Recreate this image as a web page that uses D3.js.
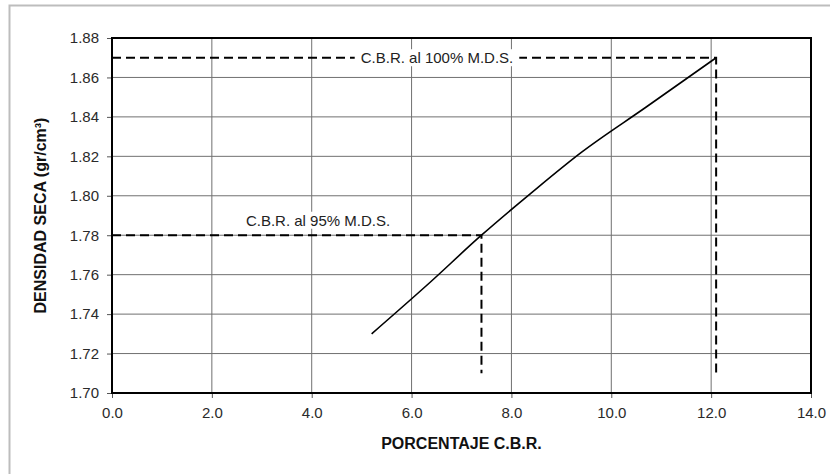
<!DOCTYPE html>
<html>
<head>
<meta charset="utf-8">
<script src="https://cdn.jsdelivr.net/npm/d3@7"></script>
<style>
  body { margin: 0; background: #fff; }
  text { font-family: "Liberation Sans", Arial, sans-serif; }
</style>
</head>
<body>
<div id="zone_graphique"></div>
<script>
// données
var cbr = [5.2, 6.3, 7.4, 8.4, 9.4, 10.7, 12.1];
var densite = [1.730, 1.7545, 1.780, 1.8015, 1.822, 1.845, 1.870];
var xTicks = [0, 2, 4, 6, 8, 10, 12, 14];
var yTicks = [1.70, 1.72, 1.74, 1.76, 1.78, 1.80, 1.82, 1.84, 1.86, 1.88];
var repere95 = {x: 7.4, y: 1.78, label: "C.B.R. al 95% M.D.S."};
var repere100 = {x: 12.1, y: 1.87, label: "C.B.R. al 100% M.D.S."};
var basRepere = 1.71;

var largeur = 830;
var hauteur = 474;
var marge = {haut: 38, droite: 19, bas: 81, gauche: 112},
    width = largeur - marge.gauche - marge.droite,
    height = hauteur - marge.haut - marge.bas;

var root = d3.select("#zone_graphique")
    .append("svg")
        .attr("width", largeur)
        .attr("height", hauteur);

// cadre extérieur gris
root.append("path")
    .attr("d", "M9.5,474 V5.5 H830")
    .attr("fill", "none")
    .attr("stroke", "#bdbdbd")
    .attr("stroke-width", 2);

var svg = root.append("g")
    .attr("transform", "translate(" + marge.gauche + "," + marge.haut + ")");

var x = d3.scaleLinear()
    .domain([0, 14])
    .range([0, width]);
var y = d3.scaleLinear()
    .domain([1.70, 1.88])
    .range([height, 0]);

// grille
svg.append("g")
    .selectAll("line")
    .data(xTicks)
    .enter()
    .append("line")
        .attr("x1", function (d) { return x(d); })
        .attr("x2", function (d) { return x(d); })
        .attr("y1", 0)
        .attr("y2", height)
        .attr("stroke", "#707070")
        .attr("stroke-width", 1);
svg.append("g")
    .selectAll("line")
    .data(yTicks)
    .enter()
    .append("line")
        .attr("x1", 0)
        .attr("x2", width)
        .attr("y1", function (d) { return y(d); })
        .attr("y2", function (d) { return y(d); })
        .attr("stroke", "#707070")
        .attr("stroke-width", 1);

// axes
var xAxis = svg.append("g")
    .attr("transform", "translate(0," + height + ")")
    .call(d3.axisBottom(x).tickValues(xTicks).tickSize(5).tickPadding(9)
        .tickFormat(d3.format(".1f")));
var yAxis = svg.append("g")
    .call(d3.axisLeft(y).tickValues(yTicks).tickSize(5).tickPadding(8)
        .tickFormat(d3.format(".2f")));
[xAxis, yAxis].forEach(function (a) {
    a.select(".domain").remove();
    a.selectAll("line").attr("stroke", "#555");
    a.selectAll("text")
        .attr("font-size", "15px")
        .attr("fill", "#2a2a2a")
        .attr("font-family", "Liberation Sans, Arial, sans-serif");
});

// bordure du graphique
svg.append("rect")
    .attr("width", width)
    .attr("height", height)
    .attr("fill", "none")
    .attr("stroke", "#000")
    .attr("stroke-width", 2);

// lignes de repère
function repere(r) {
    svg.append("path")
        .attr("d", "M0," + y(r.y) + " H" + x(r.x) + " V" + y(basRepere))
        .attr("fill", "none")
        .attr("stroke", "#000")
        .attr("stroke-width", 2)
        .attr("stroke-dasharray", "9,5");
}
repere(repere95);
repere(repere100);

// courbe
svg.append("path")
    .datum(cbr.map(function (d, i) { return [d, densite[i]]; }))
    .attr("d", d3.line()
        .x(function (d) { return x(d[0]); })
        .y(function (d) { return y(d[1]); })
        .curve(d3.curveMonotoneX))
    .attr("fill", "none")
    .attr("stroke", "#000")
    .attr("stroke-width", 1.6);

// étiquettes
function etiquette(cx, cy, txt) {
    var t = svg.append("text")
        .attr("x", cx)
        .attr("y", cy)
        .attr("text-anchor", "middle")
        .attr("dominant-baseline", "central")
        .attr("font-size", "15px")
        .attr("fill", "#222")
        .text(txt);
    var b = t.node().getBBox();
    svg.insert("rect", function () { return t.node(); })
        .attr("x", b.x - 6)
        .attr("y", b.y)
        .attr("width", b.width + 12)
        .attr("height", b.height)
        .attr("fill", "#fff");
}
etiquette(325, y(repere100.y), repere100.label);
etiquette(206, y(repere95.y) - 15, repere95.label);

// titres des axes
root.append("text")
    .attr("x", marge.gauche + width / 2)
    .attr("y", 449)
    .attr("text-anchor", "middle")
    .attr("font-size", "16px")
    .attr("font-weight", "bold")
    .attr("fill", "#111")
    .text("PORCENTAJE C.B.R.");

root.append("text")
    .attr("transform", "translate(46," + (marge.haut + height / 2) + ") rotate(-90)")
    .attr("text-anchor", "middle")
    .attr("font-size", "16px")
    .attr("font-weight", "bold")
    .attr("fill", "#111")
    .text("DENSIDAD SECA (gr/cm³)");
</script>
</body>
</html>
